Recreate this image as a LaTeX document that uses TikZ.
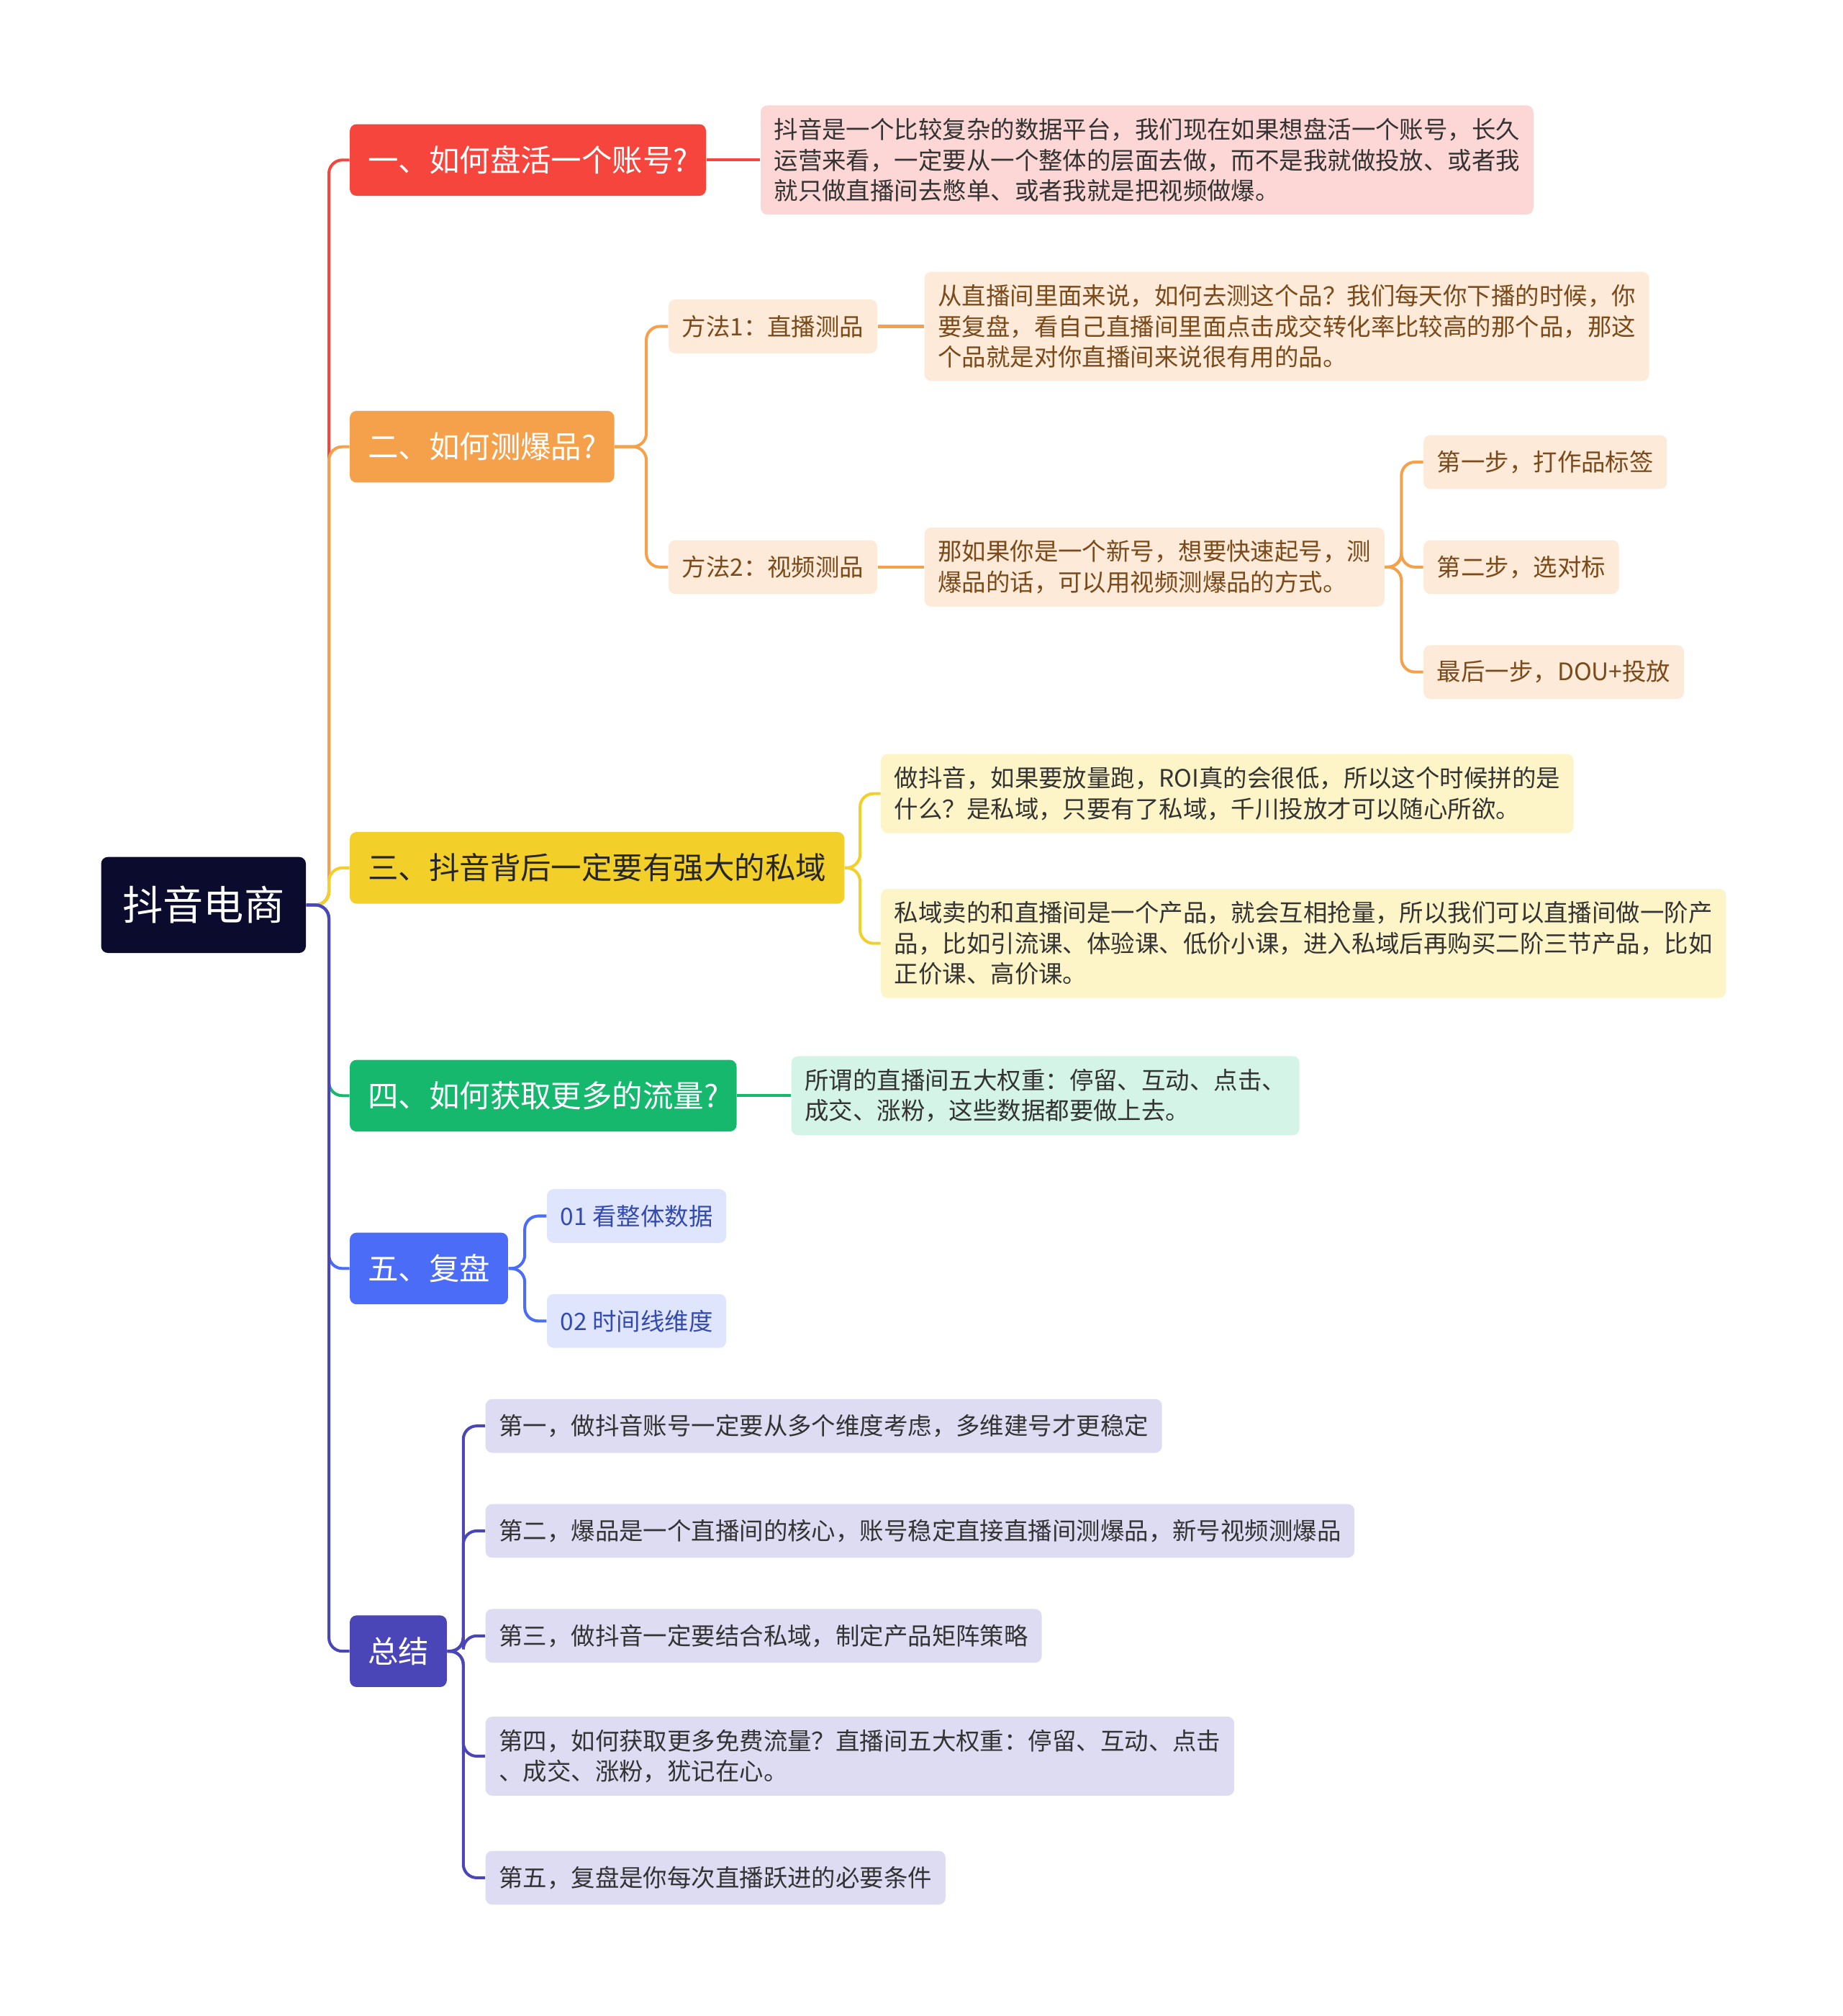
\documentclass[tikz,border=0pt]{standalone}
\usepackage{fontspec}
\setmainfont{Noto Sans CJK SC}
\usetikzlibrary{positioning}
\definecolor{rootc}{HTML}{0B0B2E}
\definecolor{redc}{HTML}{F5453D}
\definecolor{redl}{HTML}{FDD7D5}
\definecolor{orgc}{HTML}{F5A04A}
\definecolor{orgl}{HTML}{FDEAD9}
\definecolor{orgt}{HTML}{7A4A1A}
\definecolor{yelc}{HTML}{F3CF2A}
\definecolor{yell}{HTML}{FDF5C8}
\definecolor{grnc}{HTML}{16B86E}
\definecolor{grnl}{HTML}{D3F4E6}
\definecolor{bluc}{HTML}{4A6CF7}
\definecolor{blul}{HTML}{DFE5FD}
\definecolor{indc}{HTML}{4B46B8}
\definecolor{indl}{HTML}{DEDCF3}
\tikzset{
  topic/.style={rounded corners=3pt, anchor=west, minimum height=1.12cm, inner xsep=0.28cm, font=\fontsize{13.6}{16}\selectfont, text=white},
  leaf/.style={rounded corners=3pt, anchor=west, inner xsep=0.21cm, inner ysep=0.2cm, align=left, font=\fontsize{10.7}{13.6}\selectfont, text=black!80},
  small/.style={leaf, minimum height=0.84cm},
  link/.style={line width=1.3pt, rounded corners=6pt},
}
\begin{document}
\begin{tikzpicture}[x=0.02cm, y=-0.02cm]
  \useasboundingbox (0,0) rectangle (1440,1575);
  % root
  \node[rounded corners=3pt, fill=rootc, text=white, minimum width=3.2cm, minimum height=1.5cm, font=\fontsize{18}{20}\selectfont] (root) at (159,707) {抖音电商};
  % main topics
  \node[topic, fill=redc] (t1) at (273,125) {一、如何盘活一个账号?};
  \node[topic, fill=orgc] (t2) at (273,349) {二、如何测爆品?};
  \node[topic, fill=yelc, text=black!85] (t3) at (273,678) {三、抖音背后一定要有强大的私域};
  \node[topic, fill=grnc] (t4) at (273,856) {四、如何获取更多的流量?};
  \node[topic, fill=bluc] (t5) at (273,991) {五、复盘};
  \node[topic, fill=indc] (t6) at (273,1290) {总结};
  % trunk
  \coordinate (rt) at (257,707);
  \draw[link, redc] (root.east) -- (rt) |- (t1.west);
  \draw[link, orgc] (root.east) -- (rt) |- (t2.west);
  \draw[link, yelc] (root.east) -- (rt) |- (t3.west);
  \draw[link, grnc] (root.east) -- (rt) |- (t4.west);
  \draw[link, bluc] (root.east) -- (rt) |- (t5.west);
  \draw[link, indc] (root.east) -- (rt) |- (t6.west);
  % 一
  \node[leaf, fill=redl] (d1) at (594,125) {抖音是一个比较复杂的数据平台，我们现在如果想盘活一个账号，长久\\运营来看，一定要从一个整体的层面去做，而不是我就做投放、或者我\\就只做直播间去憋单、或者我就是把视频做爆。};
  \draw[link, redc] (t1.east) -- (d1.west);
  % 二
  \node[small, fill=orgl, text=orgt] (m1) at (522,255) {方法1：直播测品};
  \node[small, fill=orgl, text=orgt] (m2) at (522,443) {方法2：视频测品};
  \coordinate (j2) at (505,349);
  \draw[link, orgc] (t2.east) -- (j2) |- (m1.west);
  \draw[link, orgc] (t2.east) -- (j2) |- (m2.west);
  \node[leaf, fill=orgl, text=orgt] (m1d) at (722,255) {从直播间里面来说，如何去测这个品？我们每天你下播的时候，你\\要复盘，看自己直播间里面点击成交转化率比较高的那个品，那这\\个品就是对你直播间来说很有用的品。};
  \node[leaf, fill=orgl, text=orgt] (m2d) at (722,443) {那如果你是一个新号，想要快速起号，测\\爆品的话，可以用视频测爆品的方式。};
  \draw[link, orgc] (m1.east) -- (m1d.west);
  \draw[link, orgc] (m2.east) -- (m2d.west);
  \node[small, fill=orgl, text=orgt] (s1) at (1112,361) {第一步，打作品标签};
  \node[small, fill=orgl, text=orgt] (s2) at (1112,443) {第二步，选对标};
  \node[small, fill=orgl, text=orgt] (s3) at (1112,525) {最后一步，DOU+投放};
  \coordinate (js) at (1095,443);
  \draw[link, orgc] (m2d.east) -- (js) |- (s1.west);
  \draw[link, orgc] (m2d.east) -- (js) |- (s2.west);
  \draw[link, orgc] (m2d.east) -- (js) |- (s3.west);
  % 三
  \node[leaf, fill=yell] (y1) at (688,620) {做抖音，如果要放量跑，ROI真的会很低，所以这个时候拼的是\\什么？是私域，只要有了私域，千川投放才可以随心所欲。};
  \node[leaf, fill=yell] (y2) at (688,737) {私域卖的和直播间是一个产品，就会互相抢量，所以我们可以直播间做一阶产\\品，比如引流课、体验课、低价小课，进入私域后再购买二阶三节产品，比如\\正价课、高价课。};
  \coordinate (j3) at (672,678);
  \draw[link, yelc] (t3.east) -- (j3) |- (y1.west);
  \draw[link, yelc] (t3.east) -- (j3) |- (y2.west);
  % 四
  \node[leaf, fill=grnl] (g1) at (618,856) {所谓的直播间五大权重：停留、互动、点击、\\成交、涨粉，这些数据都要做上去。};
  \draw[link, grnc] (t4.east) -- (g1.west);
  % 五
  \node[small, fill=blul, text=bluc!70!black] (b1) at (427,950) {01 看整体数据};
  \node[small, fill=blul, text=bluc!70!black] (b2) at (427,1032) {02 时间线维度};
  \coordinate (j5) at (410,991);
  \draw[link, bluc] (t5.east) -- (j5) |- (b1.west);
  \draw[link, bluc] (t5.east) -- (j5) |- (b2.west);
  % 总结
  \node[small, fill=indl] (z1) at (379,1114) {第一，做抖音账号一定要从多个维度考虑，多维建号才更稳定};
  \node[small, fill=indl] (z2) at (379,1196) {第二，爆品是一个直播间的核心，账号稳定直接直播间测爆品，新号视频测爆品};
  \node[small, fill=indl] (z3) at (379,1278) {第三，做抖音一定要结合私域，制定产品矩阵策略};
  \node[leaf, fill=indl] (z4) at (379,1372) {第四，如何获取更多免费流量？直播间五大权重：停留、互动、点击\\、成交、涨粉，犹记在心。};
  \node[small, fill=indl] (z5) at (379,1467) {第五，复盘是你每次直播跃进的必要条件};
  \coordinate (j6) at (362,1290);
  \foreach \z in {z1,z2,z3,z4,z5}
    \draw[link, indc] (t6.east) -- (j6) |- (\z.west);
\end{tikzpicture}
\end{document}
